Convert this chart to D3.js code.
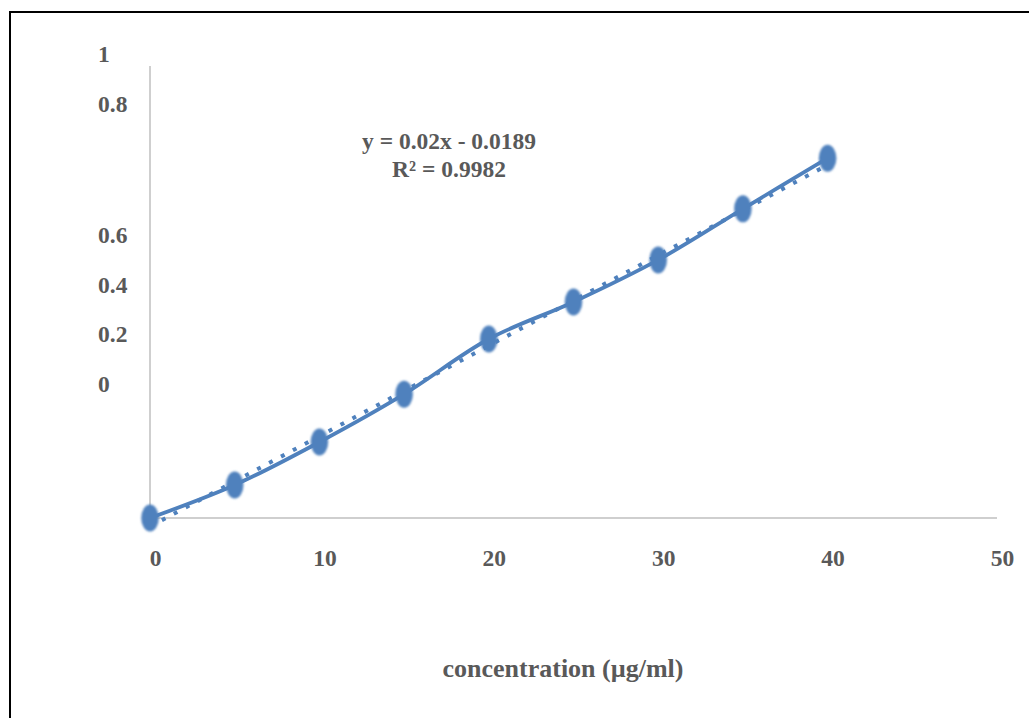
<!DOCTYPE html>
<html>
<head>
<meta charset="utf-8">
<script src="https://cdn.jsdelivr.net/npm/d3@7"></script>
<style>
  body { margin: 0; background: #fff; }
  svg { display: block; }
</style>
</head>
<body>
<div id="chart"></div>
<script>
// data
var concentration = [0, 5, 10, 15, 20, 25, 30, 35, 40];
var absorbance = [0, 0.073, 0.168, 0.274, 0.396, 0.478, 0.571, 0.684, 0.796];
var xTicks = [0, 10, 20, 30, 40, 50];
var yTickLabels = ["1", "0.8", "0.6", "0.4", "0.2", "0"];
var yTickValues = [1, 0.8, 0.6, 0.4, 0.2, 0];
var slope = 0.02, intercept = -0.0189;
var equationLines = ["y = 0.02x - 0.0189", "R\u00b2 = 0.9982"];
var xTitle = "concentration (\u00b5g/ml)";

var W = 1029, H = 718;
var blue = "#4f81bd", grey = "#595959", axisCol = "#bfbfbf";
var font = "'Liberation Serif', 'Times New Roman', serif";

var svg = d3.select("#chart").append("svg").attr("width", W).attr("height", H);

// outer frame
svg.append("rect").attr("x", 10).attr("y", 12).attr("width", W + 20).attr("height", H + 20)
  .style("fill", "#fff").style("stroke", "#000").style("stroke-width", 2);

var x = d3.scaleLinear().domain([0, 50]).range([150, 997]);
var y = d3.scaleLinear().domain([0, 1]).range([518, 66]);
// tick labels in the source sit where they sit, not on the data scale
var yLab = d3.scaleLinear().domain([0, 0.6, 0.8, 1]).range([392, 243, 112, 62]);

// axes
svg.append("line").attr("x1", x(0)).attr("x2", x(0)).attr("y1", y(1)).attr("y2", y(0))
  .style("stroke", axisCol).style("stroke-width", 1.5);
svg.append("line").attr("x1", x(0)).attr("x2", x(50)).attr("y1", y(0)).attr("y2", y(0))
  .style("stroke", axisCol).style("stroke-width", 1.5);

svg.selectAll(".xtick").data(xTicks).enter().append("text")
  .attr("class", "xtick")
  .attr("x", function (d) { return x(d) + 5.5; })
  .attr("y", 566)
  .attr("text-anchor", "middle")
  .style("font-family", font).style("font-weight", "bold").style("font-size", "23.5px")
  .style("fill", grey)
  .text(function (d) { return d; });

svg.selectAll(".ytick").data(yTickValues).enter().append("text")
  .attr("class", "ytick")
  .attr("x", 98)
  .attr("y", function (d) { return yLab(d); })
  .style("font-family", font).style("font-weight", "bold").style("font-size", "23.5px")
  .style("fill", grey)
  .text(function (d, i) { return yTickLabels[i]; });

// blur to mimic the soft markers
var defs = svg.append("defs");
defs.append("filter").attr("id", "soft").append("feGaussianBlur").attr("stdDeviation", 0.9);

// trendline (dotted)
var trend = [0, 40].map(function (c) { return [c, slope * c + intercept]; });
svg.append("path")
  .attr("d", d3.line().x(function (d) { return x(d[0]); }).y(function (d) { return y(d[1]); })(trend))
  .style("fill", "none").style("stroke", blue).style("stroke-width", 4)
  .style("stroke-dasharray", "4,9.5");

// smooth series line
var pts = concentration.map(function (c, i) { return [c, absorbance[i]]; });
svg.append("path")
  .attr("d", d3.line().curve(d3.curveCatmullRom)
    .x(function (d) { return x(d[0]); }).y(function (d) { return y(d[1]); })(pts))
  .style("fill", "none").style("stroke", blue).style("stroke-width", 3.8);

// markers
svg.selectAll(".pt").data(pts).enter().append("ellipse")
  .attr("class", "pt")
  .attr("cx", function (d) { return x(d[0]); })
  .attr("cy", function (d) { return y(d[1]); })
  .attr("rx", 8.8).attr("ry", 13.5)
  .style("fill", blue)
  .attr("filter", "url(#soft)");

// equation
svg.selectAll(".eq").data(equationLines).enter().append("text")
  .attr("class", "eq")
  .attr("x", 449)
  .attr("y", function (d, i) { return 149 + i * 28; })
  .attr("text-anchor", "middle")
  .style("font-family", font).style("font-weight", "bold").style("font-size", "23.5px")
  .style("fill", grey)
  .text(function (d) { return d; });

// x title
svg.append("text")
  .attr("x", 563).attr("y", 677)
  .attr("text-anchor", "middle")
  .style("font-family", font).style("font-weight", "bold").style("font-size", "26px")
  .style("fill", grey)
  .text(xTitle);
</script>
</body>
</html>
